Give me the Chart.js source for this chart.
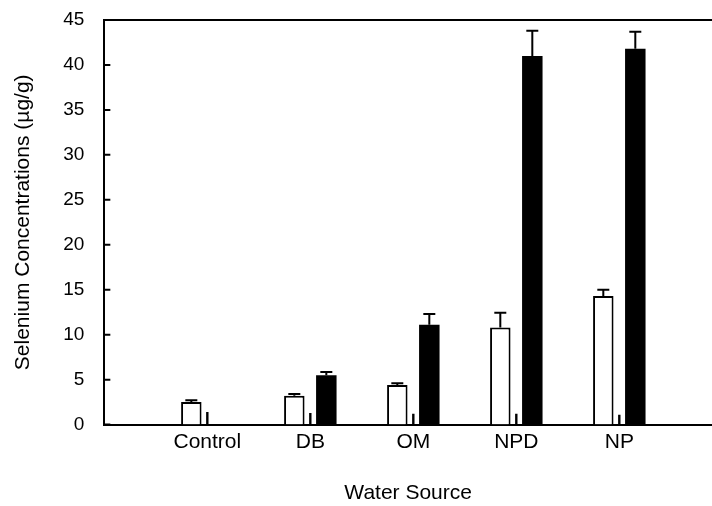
<!DOCTYPE html>
<html lang="en">
<head>
<meta charset="UTF-8">
<title>selenium</title>
<script src="https://cdn.jsdelivr.net/npm/chart.js"></script>
<style>
  html, body { margin: 0; padding: 0; background: #fff; }
  #wrap { width: 712px; height: 506px; }
</style>
</head>
<body>
<div id="wrap"><canvas id="myChart"></canvas></div>
<script>
// values
var categories = ['Control', 'DB', 'OM', 'NPD', 'NP']
var openBars = [2.5, 3.2, 4.4, 10.8, 14.3]
var openErr = [0.2, 0.2, 0.2, 1.65, 0.7]
var thinBars = [1.4, 1.3, 1.2, 1.2, 1.1]
var solidBars = [null, 5.5, 11.1, 41.0, 41.8]
var solidErr = [null, 0.35, 1.2, 2.8, 1.9]
var yTicks = [0, 5, 10, 15, 20, 25, 30, 35, 40, 45]

const pts = (arr) => arr.map((v, i) => ({ x: i + 1, y: v }))

// error bars (upper only) on top of the bars
const errorBars = {
    id: 'errorBars',
    afterDatasetsDraw(chart) {
        const ctx = chart.ctx
        const yScale = chart.scales.y
        chart.data.datasets.forEach((ds, di) => {
            if (!ds.err) return
            const meta = chart.getDatasetMeta(di)
            meta.data.forEach((bar, i) => {
                const v = ds.data[i].y, e = ds.err[i]
                if (v == null || e == null) return
                const top = yScale.getPixelForValue(v + e)
                ctx.save()
                ctx.strokeStyle = '#000'
                ctx.lineWidth = 2
                ctx.beginPath()
                ctx.moveTo(bar.x, bar.y)
                ctx.lineTo(bar.x, top)
                ctx.moveTo(bar.x - 6, top)
                ctx.lineTo(bar.x + 6, top)
                ctx.stroke()
                ctx.restore()
            })
        })
    }
}

// inward y ticks and the top frame line
const frame = {
    id: 'frame',
    afterDraw(chart) {
        const ctx = chart.ctx
        const area = chart.chartArea
        const yScale = chart.scales.y
        ctx.save()
        ctx.strokeStyle = '#000'
        ctx.lineWidth = 2
        ctx.beginPath()
        ctx.moveTo(area.left, area.top)
        ctx.lineTo(area.right, area.top)
        yTicks.forEach(t => {
            const y = yScale.getPixelForValue(t)
            ctx.moveTo(area.left, y)
            ctx.lineTo(area.left + 6, y)
        })
        ctx.stroke()
        ctx.restore()
    }
}

Chart.defaults.font.family = '"Liberation Sans", Arial, sans-serif'
Chart.defaults.color = '#000'

var ctx = document.getElementById('myChart')
var myChart = new Chart(ctx, {
    type: 'bar',
    data: {
        datasets: [{
            label: 'open',
            data: pts(openBars),
            err: openErr,
            backgroundColor: '#fff',
            borderColor: '#000',
            borderWidth: 2,
            barPercentage: 1.28
        }, {
            label: 'thin',
            data: pts(thinBars),
            backgroundColor: '#000',
            borderWidth: 0,
            barPercentage: 0.15
        }, {
            label: 'solid',
            data: pts(solidBars),
            err: solidErr,
            backgroundColor: '#000',
            borderColor: '#000',
            borderWidth: 0,
            barPercentage: 1.28
        }]
    },
    options: {
        responsive: true,
        maintainAspectRatio: false,
        animation: false,
        categoryPercentage: 0.466,
        layout: { padding: { top: 20, left: 0, right: 0, bottom: 0 } },
        plugins: { legend: { display: false }, tooltip: { enabled: false } },
        scales: {
            x: {
                type: 'linear',
                offset: false,
                min: 0,
                max: 5.9,
                grid: { display: false, drawTicks: false },
                border: { display: true, color: '#000', width: 2 },
                afterBuildTicks: (scale) => {
                    scale.ticks = categories.map((c, i) => ({ value: i + 1 }))
                },
                ticks: {
                    padding: 5,
                    font: { size: 21 },
                    callback: (v) => categories[v - 1]
                },
                title: {
                    display: true,
                    text: 'Water Source',
                    font: { size: 21 },
                    padding: { top: 21, bottom: 0 }
                }
            },
            y: {
                min: 0,
                max: 45,
                grid: { display: false, drawTicks: false },
                border: { display: true, color: '#000', width: 2 },
                afterBuildTicks: (scale) => {
                    scale.ticks = yTicks.map(v => ({ value: v }))
                },
                // keep the wide label gap from pushing the plot down
                afterFit: (scale) => {
                    scale.paddingTop = 0
                },
                ticks: { padding: 20, font: { size: 19 } },
                title: {
                    display: true,
                    text: 'Selenium Concentrations (µg/g)',
                    font: { size: 21 },
                    padding: { top: 11, bottom: 7 }
                }
            }
        }
    },
    plugins: [errorBars, frame]
})
</script>
</body>
</html>
